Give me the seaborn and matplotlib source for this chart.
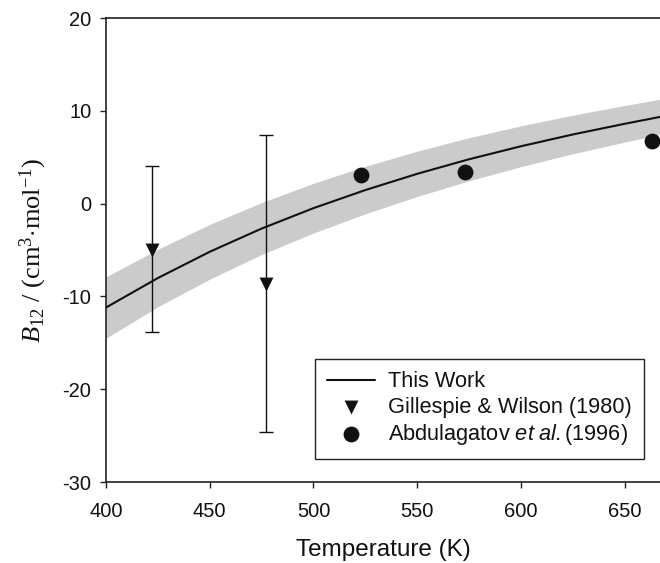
import numpy as np
import pandas as pd
import matplotlib
matplotlib.use("Agg")
import matplotlib.pyplot as plt
import seaborn as sns

# ---- data ----
curve_T = [400, 425, 450, 475, 500, 525, 550, 575, 600, 625, 650, 667]
curve_B = [-11.2, -8.02, -5.19, -2.69, -0.49, 1.46, 3.21, 4.78, 6.18, 7.45, 8.60, 9.34]
band_upper = [-7.9, -4.92, -2.24, 0.11, 2.19, 4.02, 5.65, 7.10, 8.38, 9.53, 10.57, 11.24]
band_lower = [-14.5, -11.12, -8.14, -5.49, -3.17, -1.10, 0.77, 2.46, 3.98, 5.37, 6.63, 7.44]

gw_T = [422, 477]
gw_B = [-5.0, -8.7]
gw_err_hi = [4.0, 7.4]
gw_err_lo = [-13.8, -24.6]

ab_T = [523, 573, 663]
ab_B = [3.1, 3.4, 6.7]

x_ticks = [400, 450, 500, 550, 600, 650]
y_ticks = [-30, -20, -10, 0, 10, 20]

sns.set_theme(style="ticks")
plt.rcParams['font.family'] = ['Liberation Sans', 'DejaVu Sans']
plt.rcParams['axes.unicode_minus'] = False
plt.rcParams['mathtext.fontset'] = 'custom'
plt.rcParams['mathtext.rm'] = 'Liberation Serif'
plt.rcParams['mathtext.it'] = 'Liberation Serif:italic'
plt.rcParams['mathtext.sf'] = 'Liberation Sans:italic'

fig = plt.figure(figsize=(6.6, 5.63), dpi=100)
ax = fig.add_axes([106/660, 81/563, 554/660, 464/563])

curve_df = pd.DataFrame({"T": curve_T, "B": curve_B})
gw_df = pd.DataFrame({"T": gw_T, "B": gw_B})
ab_df = pd.DataFrame({"T": ab_T, "B": ab_B})

ax.fill_between(curve_T, band_lower, band_upper, color='#cbcbcb', linewidth=0, zorder=1)
sns.lineplot(data=curve_df, x="T", y="B", ax=ax, color='#111111', linewidth=1.5,
             label='This Work', zorder=3)

yerr = [np.array(gw_B) - np.array(gw_err_lo), np.array(gw_err_hi) - np.array(gw_B)]
ax.errorbar(gw_T, gw_B, yerr=yerr, fmt='none', ecolor='#111111', elinewidth=1.0,
            capsize=5, capthick=1.0, zorder=4)
sns.scatterplot(data=gw_df, x="T", y="B", ax=ax, marker='v', s=100, color='#111111',
                edgecolor='#111111', linewidth=0, label='Gillespie & Wilson (1980)', zorder=5)
sns.scatterplot(data=ab_df, x="T", y="B", ax=ax, marker='o', s=130, color='#111111',
                edgecolor='#111111', linewidth=0,
                label=r'Abdulagatov $\mathsf{et\ al.}$(1996)', zorder=5)

ax.set_xlim(400, 667)
ax.set_ylim(-30, 20)
ax.set_xticks(x_ticks)
ax.set_yticks(y_ticks)
ax.tick_params(axis='both', labelsize=14.5, direction='out', length=4.5, width=1.0,
               color='#222222', labelcolor='#111111')
ax.tick_params(axis='x', pad=10)
ax.tick_params(axis='y', pad=6)
for s in ['left', 'bottom', 'top']:
    ax.spines[s].set_color('#222222')
    ax.spines[s].set_linewidth(1.2)
ax.spines['right'].set_visible(False)

ax.set_xlabel('Temperature (K)', fontsize=17.5, labelpad=13, color='#111111')
ax.set_ylabel(r'$B_{12}$ / (cm$^{3}$$\cdot$mol$^{-1}$)', fontsize=19,
              family='Liberation Serif', color='#111111', labelpad=10)

leg = ax.legend(loc='lower right', bbox_to_anchor=(0.971, 0.0496), fontsize=15.7,
                frameon=True, fancybox=False, framealpha=1, edgecolor='#222222',
                handlelength=2.2, handletextpad=0.6, labelspacing=0.2,
                borderpad=0.55, borderaxespad=0)
leg.get_frame().set_linewidth(1.0)
for t in leg.get_texts():
    t.set_color('#111111')

fig.savefig('out.png', dpi=100)
